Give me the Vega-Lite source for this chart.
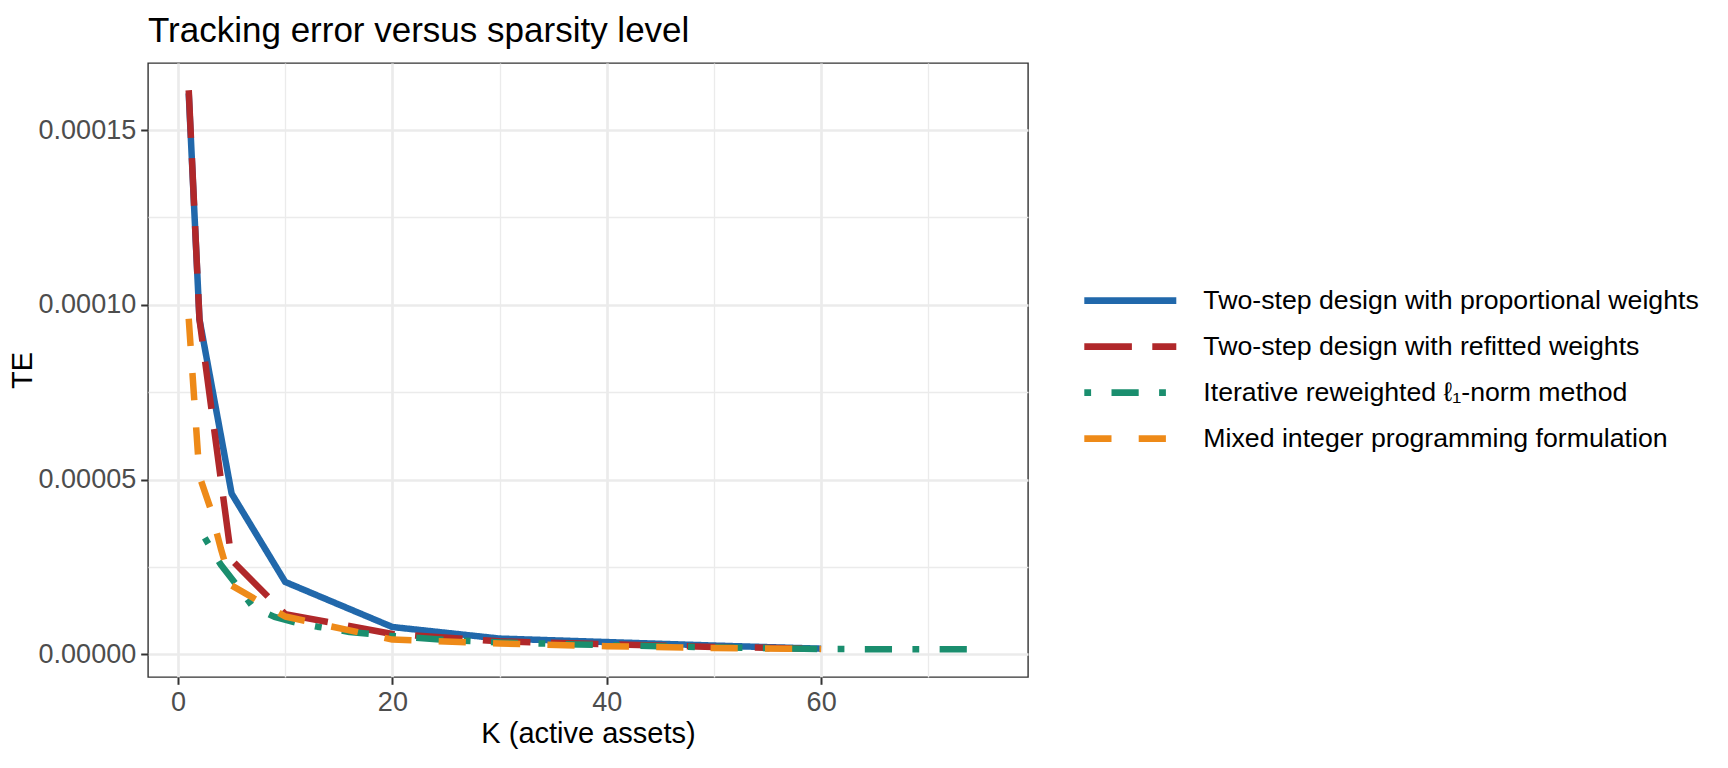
{
  "$schema": "https://vega.github.io/schema/vega-lite/v6.json",
  "autosize": {"type": "none"},
  "padding": {"left": 148, "top": 63, "right": 700, "bottom": 91},
  "width": 880,
  "height": 614,
  "background": "white",
  "title": {
    "text": "Tracking error versus sparsity level",
    "anchor": "start",
    "frame": "group",
    "fontSize": 35,
    "fontWeight": "normal",
    "color": "#000000",
    "baseline": "alphabetic",
    "offset": -14
  },
  "data": {
    "values": [
      {"method": "Two-step design with proportional weights", "K": 1, "TE": 0.0001605},
      {"method": "Two-step design with proportional weights", "K": 2, "TE": 0.0000959},
      {"method": "Two-step design with proportional weights", "K": 5, "TE": 0.0000460},
      {"method": "Two-step design with proportional weights", "K": 10, "TE": 0.0000207},
      {"method": "Two-step design with proportional weights", "K": 20, "TE": 0.0000078},
      {"method": "Two-step design with proportional weights", "K": 30, "TE": 0.0000045},
      {"method": "Two-step design with proportional weights", "K": 40, "TE": 0.0000035},
      {"method": "Two-step design with proportional weights", "K": 50, "TE": 0.0000025},
      {"method": "Two-step design with proportional weights", "K": 60, "TE": 0.0000016},
      {"method": "Two-step design with refitted weights", "K": 1, "TE": 0.0001614},
      {"method": "Two-step design with refitted weights", "K": 2, "TE": 0.0000959},
      {"method": "Two-step design with refitted weights", "K": 5, "TE": 0.0000270},
      {"method": "Two-step design with refitted weights", "K": 10, "TE": 0.0000115},
      {"method": "Two-step design with refitted weights", "K": 20, "TE": 0.0000058},
      {"method": "Two-step design with refitted weights", "K": 30, "TE": 0.0000037},
      {"method": "Two-step design with refitted weights", "K": 40, "TE": 0.0000029},
      {"method": "Two-step design with refitted weights", "K": 50, "TE": 0.0000021},
      {"method": "Two-step design with refitted weights", "K": 60, "TE": 0.0000016},
      {"method": "Iterative reweighted ℓ₁-norm method", "K": 2.5, "TE": 0.0000333},
      {"method": "Iterative reweighted ℓ₁-norm method", "K": 4, "TE": 0.0000256},
      {"method": "Iterative reweighted ℓ₁-norm method", "K": 5.5, "TE": 0.0000197},
      {"method": "Iterative reweighted ℓ₁-norm method", "K": 7, "TE": 0.0000135},
      {"method": "Iterative reweighted ℓ₁-norm method", "K": 9, "TE": 0.0000107},
      {"method": "Iterative reweighted ℓ₁-norm method", "K": 11, "TE": 0.0000091},
      {"method": "Iterative reweighted ℓ₁-norm method", "K": 13, "TE": 0.0000079},
      {"method": "Iterative reweighted ℓ₁-norm method", "K": 16, "TE": 0.0000064},
      {"method": "Iterative reweighted ℓ₁-norm method", "K": 20, "TE": 0.0000052},
      {"method": "Iterative reweighted ℓ₁-norm method", "K": 25, "TE": 0.0000041},
      {"method": "Iterative reweighted ℓ₁-norm method", "K": 30, "TE": 0.0000034},
      {"method": "Iterative reweighted ℓ₁-norm method", "K": 40, "TE": 0.0000026},
      {"method": "Iterative reweighted ℓ₁-norm method", "K": 50, "TE": 0.0000020},
      {"method": "Iterative reweighted ℓ₁-norm method", "K": 60, "TE": 0.0000015},
      {"method": "Iterative reweighted ℓ₁-norm method", "K": 75, "TE": 0.0000014},
      {"method": "Mixed integer programming formulation", "K": 1, "TE": 0.0000960},
      {"method": "Mixed integer programming formulation", "K": 2, "TE": 0.0000510},
      {"method": "Mixed integer programming formulation", "K": 3, "TE": 0.0000420},
      {"method": "Mixed integer programming formulation", "K": 4, "TE": 0.0000302},
      {"method": "Mixed integer programming formulation", "K": 5, "TE": 0.0000197},
      {"method": "Mixed integer programming formulation", "K": 10, "TE": 0.0000108},
      {"method": "Mixed integer programming formulation", "K": 20, "TE": 0.0000042},
      {"method": "Mixed integer programming formulation", "K": 30, "TE": 0.0000031},
      {"method": "Mixed integer programming formulation", "K": 40, "TE": 0.0000023},
      {"method": "Mixed integer programming formulation", "K": 50, "TE": 0.0000018},
      {"method": "Mixed integer programming formulation", "K": 60, "TE": 0.0000015}
    ]
  },
  "mark": {"type": "line", "strokeWidth": 6.5, "strokeJoin": "round", "strokeCap": "butt"},
  "encoding": {
    "x": {
      "field": "K",
      "type": "quantitative",
      "scale": {"domain": [-2.8, 79.3], "nice": false, "zero": false},
      "axis": {
        "title": "K (active assets)",
        "values": [0, 10, 20, 30, 40, 50, 60, 70],
        "labelExpr": "datum.value % 20 === 0 ? datum.label : ''",
        "gridWidth": {"condition": {"test": "datum.value % 20 === 0", "value": 2.7}, "value": 1.35},
        "tickOpacity": {"condition": {"test": "datum.value % 20 === 0", "value": 1}, "value": 0},
        "titlePadding": 4
      }
    },
    "y": {
      "field": "TE",
      "type": "quantitative",
      "scale": {"domain": [-0.0000065, 0.0001692], "nice": false, "zero": false},
      "axis": {
        "title": "TE",
        "values": [0, 0.000025, 0.00005, 0.000075, 0.0001, 0.000125, 0.00015],
        "format": ".5f",
        "labelExpr": "abs(datum.value*20000 - round(datum.value*20000)) < 0.01 ? datum.label : ''",
        "gridWidth": {"condition": {"test": "abs(datum.value*20000 - round(datum.value*20000)) < 0.01", "value": 2.7}, "value": 1.35},
        "tickOpacity": {"condition": {"test": "abs(datum.value*20000 - round(datum.value*20000)) < 0.01", "value": 1}, "value": 0},
        "titlePadding": 1
      }
    },
    "color": {
      "field": "method",
      "type": "nominal",
      "sort": null,
      "scale": {
        "domain": ["Two-step design with proportional weights", "Two-step design with refitted weights", "Iterative reweighted ℓ₁-norm method", "Mixed integer programming formulation"],
        "range": ["#2168AB", "#B0282A", "#1A8E6E", "#EE8A18"]
      },
      "legend": {
        "title": null,
        "orient": "none",
        "legendX": 932.8,
        "legendY": 214.6,
        "clipHeight": 46,
        "rowPadding": 0,
        "padding": 0,
        "symbolType": "stroke",
        "symbolSize": 8464,
        "symbolStrokeWidth": 6.7,
        "labelOffset": 23.5,
        "labelFontSize": 26.7,
        "labelColor": "#000000",
        "labelLimit": 700
      }
    },
    "strokeDash": {
      "field": "method",
      "type": "nominal",
      "sort": null,
      "scale": {
        "domain": ["Two-step design with proportional weights", "Two-step design with refitted weights", "Iterative reweighted ℓ₁-norm method", "Mixed integer programming formulation"],
        "range": [[1, 0], [47.6, 20.4], [6.8, 20.4, 27.2, 20.4], [27.2, 27.2]]
      },
      "legend": {
        "title": null,
        "orient": "none",
        "legendX": 932.8,
        "legendY": 214.6,
        "clipHeight": 46,
        "rowPadding": 0,
        "padding": 0,
        "symbolType": "stroke",
        "symbolSize": 8464,
        "symbolStrokeWidth": 6.7,
        "labelOffset": 23.5,
        "labelFontSize": 26.7,
        "labelColor": "#000000",
        "labelLimit": 700
      }
    }
  },
  "config": {
    "font": "Liberation Sans",
    "view": {"stroke": "#333333", "strokeWidth": 1.4},
    "axis": {
      "domain": false,
      "grid": true,
      "gridColor": "#EBEBEB",
      "tickColor": "#333333",
      "tickSize": 7.3,
      "tickWidth": 2,
      "labelColor": "#4D4D4D",
      "labelFontSize": 27,
      "labelPadding": 5,
      "titleFontSize": 29,
      "titleFontWeight": "normal",
      "titleColor": "#000000"
    }
  }
}
